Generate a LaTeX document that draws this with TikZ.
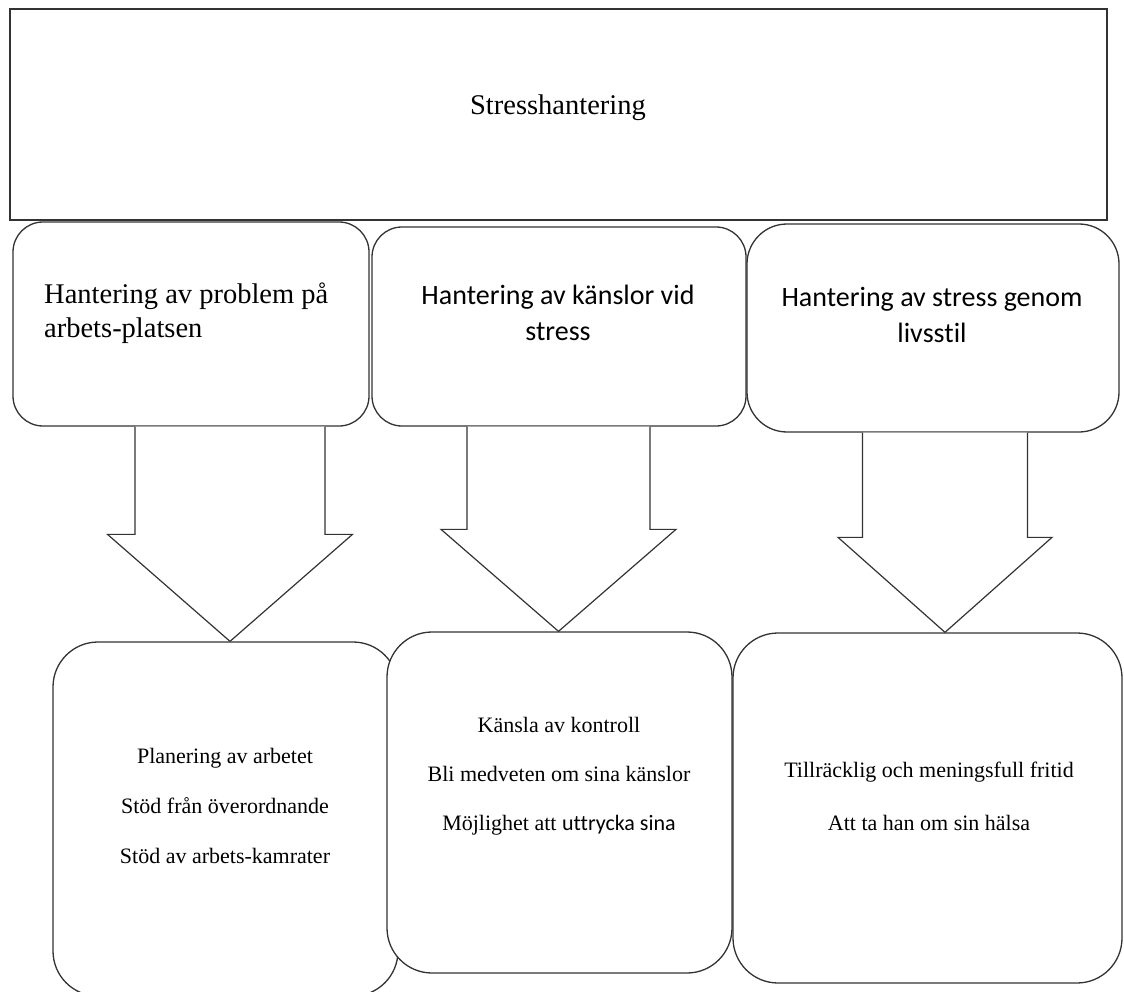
\documentclass[tikz,border=0pt]{standalone}
\usepackage{fontspec}
\setmainfont{Liberation Serif}
\newfontfamily\calibri[Ligatures=NoCommon]{Carlito}
\usetikzlibrary{calc}
\tikzset{
    mainbox/.style={draw=black!80, line width=1.3pt, fill=white, inner sep=0pt},
    headbox/.style={mainbox, rounded corners=30pt},
    itembox/.style={mainbox, rounded corners=45pt},
    blockarrow/.style={draw=black!80, line width=1.2pt, fill=white, line join=miter},
    headtext/.style={inner sep=0pt, font=\fontsize{28.5}{34}\selectfont},
    sanstext/.style={inner sep=0pt, align=center, font=\calibri\fontsize{28}{36}\selectfont},
    itemtext/.style={inner sep=0pt, align=center, font=\fontsize{22}{50}\selectfont}
}
\newcommand{\blockarr}[5]{%
    \draw[blockarrow] ($(#1)+(-#3,0)$) -- ($(#2)+(-#3,-#5)$) -- ($(#2)+(-#4,-#5)$) -- (#2)
        -- ($(#2)+(#4,-#5)$) -- ($(#2)+(#3,-#5)$) -- ($(#1)+(#3,0)$);
}

\begin{document}
\begin{tikzpicture}[x=1pt,y=-1pt]
		\useasboundingbox (0,0) rectangle (1124,992);

		%top
		\node[mainbox, minimum width=1097pt, minimum height=211pt] (stress) at (558.5,114.5) {};
		\node[headtext, anchor=base] (stresstxt) at (558,115) {Stresshantering};

		%categories
		\node[headbox, minimum width=356pt, minimum height=204pt] (b1) at (191,324) {};
		\node[headtext, align=left, anchor=west] (b1txt) at (44,313.5) {Hantering av problem på\\arbets-platsen};
		\node[headbox, minimum width=374pt, minimum height=199pt] (b2) at (559,326.5) {};
		\node[sanstext] (b2txt) at (558,313) {Hantering av känslor vid\\stress};
		\node[headbox, rounded corners=40pt, minimum width=372pt, minimum height=208pt] (b3) at (933,328) {};
		\node[sanstext] (b3txt) at (932,315) {Hantering av stress genom\\livsstil};

		%items
		\node[itembox, minimum width=345pt, minimum height=354pt] (c1) at (225.5,819) {};
		\node[itemtext] (c1txt) at (225,805.5) {Planering av arbetet\\Stöd från överordnande\\Stöd av arbets-kamrater};
		\node[itembox, minimum width=345pt, minimum height=341pt] (c2) at (559.5,802.5) {};
		\node[itemtext, font=\fontsize{22}{49}\selectfont] (c2txt) at (559,776) {Känsla av kontroll\\Bli medveten om sina känslor\\Möjlighet att {\calibri uttrycka sina}};
		\node[itembox, minimum width=389pt, minimum height=350pt] (c3) at (927.5,808) {};
		\node[itemtext, font=\fontsize{22}{53}\selectfont] (c3txt) at (929,796) {Tillräcklig och meningsfull fritid\\Att ta han om sin hälsa};

		%arrows
		\path (c1.north) ++(4.5,0) coordinate (t1);
		\path (c2.north) ++(-1,0) coordinate (t2);
		\path (c3.north) ++(17.5,0) coordinate (t3);
		\coordinate (s1) at (t1 |- b1.south);
		\coordinate (s2) at (t2 |- b2.south);
		\coordinate (s3) at (t3 |- b3.south);
		\blockarr{s1}{t1}{95}{122.5}{107}
		\blockarr{s2}{t2}{91.5}{117.5}{102}
		\blockarr{s3}{t3}{82.5}{107}{95}

	\end{tikzpicture}
\end{document}
